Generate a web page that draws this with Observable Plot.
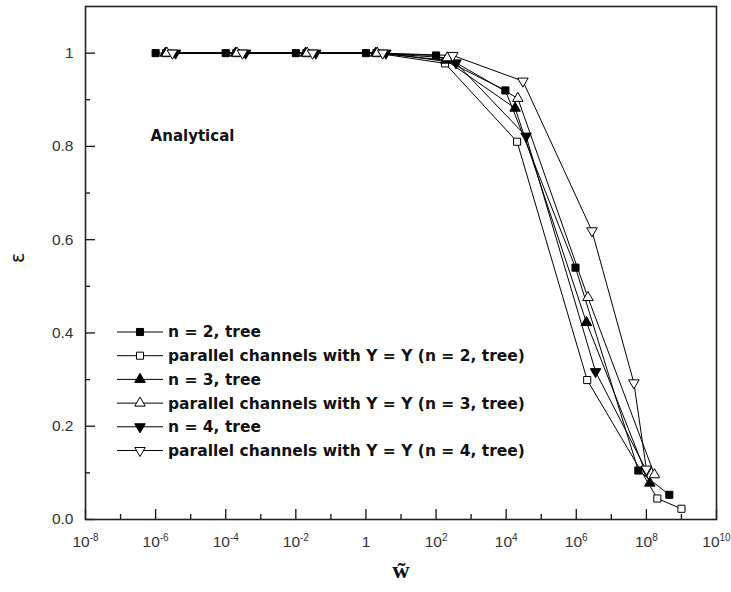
<!DOCTYPE html>
<html><head><meta charset="utf-8">
<script src="https://cdn.jsdelivr.net/npm/d3@7"></script>
<script src="https://cdn.jsdelivr.net/npm/@observablehq/plot@0.6"></script>
<style>
body{margin:0;background:#fff;}
#chart{position:relative;width:731px;height:592px;}
</style>
</head><body><div id="chart"></div>
<script>
// ---- data ----
const seriesNames = [
  "n = 2, tree",
  "parallel channels with Y = Y (n = 2, tree)",
  "n = 3, tree",
  "parallel channels with Y = Y (n = 3, tree)",
  "n = 4, tree",
  "parallel channels with Y = Y (n = 4, tree)"
];
const n2TreeW = [1e-6, 1e-4, 1e-2, 1, 100, 9.5e3, 9.5e5, 5.9e7, 4.5e8];
const n2TreeE = [1.0, 1.0, 1.0, 1.0, 0.995, 0.92, 0.54, 0.105, 0.053];
const par2W   = [2e-6, 2e-4, 2e-2, 2, 180, 2.05e4, 2.05e6, 2.05e8, 1e9];
const par2E   = [1.0, 1.0, 1.0, 1.0, 0.978, 0.81, 0.299, 0.045, 0.023];
const n3TreeW = [1.9e-6, 1.9e-4, 1.9e-2, 1.9, 190, 1.8e4, 1.95e6, 1.25e8];
const n3TreeE = [1.0, 1.0, 1.0, 1.0, 0.985, 0.882, 0.4225, 0.078];
const par3W   = [2.1e-6, 2.1e-4, 2.1e-2, 2.1, 210, 2.15e4, 2.15e6, 1.7e8];
const par3E   = [1.0, 1.0, 1.0, 1.0, 0.99, 0.903, 0.476, 0.096];
const n4TreeW = [3.7e-6, 3.7e-4, 3.7e-2, 3.7, 370, 3.7e4, 3.55e6, 1e8];
const n4TreeE = [1.0, 1.0, 1.0, 1.0, 0.979, 0.822, 0.317, 0.105];
const par4W   = [3e-6, 3e-4, 3e-2, 3, 300, 3e4, 2.8e6, 4.4e7, 1e8];
const par4E   = [1.0, 1.0, 1.0, 1.0, 0.995, 0.94, 0.619, 0.293, 0.108];

const yMajorTicks = [0, 0.2, 0.4, 0.6, 0.8, 1.0];
const yTickLabels = ["0.0", "0.2", "0.4", "0.6", "0.8", "1"];
const yMinorTicks = [0.1, 0.3, 0.5, 0.7, 0.9];
const xMajorTicks = [1e-8, 1e-6, 1e-4, 1e-2, 1, 1e2, 1e4, 1e6, 1e8, 1e10];
const xTickLabels = ["10^-8", "10^-6", "10^-4", "10^-2", "1", "10^2", "10^4", "10^6", "10^8", "10^10"];
const xMinorTicks = [1e-7, 1e-5, 1e-3, 1e-1, 1e1, 1e3, 1e5, 1e7, 1e9];
const annotation = "Analytical";
const annotationPos = {w: 7.2e-7, e: 0.822};
const xLabel = "w\u0303";
const yLabel = "\u03b5";

// ---- build ----
const triangleDown = {
  draw(context, size) {
    const y = -Math.sqrt(size / (Math.sqrt(3) * 3));
    context.moveTo(0, -y * 2);
    context.lineTo(-Math.sqrt(3) * y, y);
    context.lineTo(Math.sqrt(3) * y, y);
    context.closePath();
  }
};
const seriesW = [n2TreeW, par2W, n3TreeW, par3W, n4TreeW, par4W];
const seriesE = [n2TreeE, par2E, n3TreeE, par3E, n4TreeE, par4E];
const styles = [
  {symbol: "square", fill: "black", r: 4},
  {symbol: "square", fill: "white", r: 4},
  {symbol: "triangle", fill: "black", r: 3.9},
  {symbol: "triangle", fill: "white", r: 3.9},
  {symbol: triangleDown, fill: "black", r: 3.9},
  {symbol: triangleDown, fill: "white", r: 3.9}
];
const rows = [];
seriesW.forEach((ws, s) => ws.forEach((w, i) => rows.push({s, w, e: seriesE[s][i]})));

const W = 731, H = 592, mL = 85, mR = 15, mT = 6, mB = 73;
const pw = W - mL - mR, ph = H - mT - mB;
const boldFont = "'DejaVu Sans', Verdana, sans-serif";

const dotMarks = styles.map((st, s) => Plot.dot(rows.filter(d => d.s === s), {
  x: "w", y: "e", symbol: st.symbol, r: st.r, fill: st.fill, stroke: "black", strokeWidth: 1
}));

const plot = Plot.plot({
  width: W, height: H,
  marginLeft: mL, marginRight: mR, marginTop: mT, marginBottom: mB,
  x: {type: "log", domain: [1e-8, 1e10]},
  y: {domain: [0, 1.1]},
  style: {fontFamily: "'Liberation Sans', Arial, sans-serif", fontSize: "15px", color: "#111", background: "#fff"},
  marks: [
    Plot.axisY(yMajorTicks, {tickSize: 0, tickPadding: 12, label: null, fontSize: 15.5, fill: "#333",
      tickFormat: d => yTickLabels[yMajorTicks.indexOf(d)]}),
    Plot.axisX(xMajorTicks, {tickSize: 0, tickPadding: 16, label: null, fontSize: 15.5, fill: "#333",
      tickFormat: d => xTickLabels[xMajorTicks.indexOf(d)]}),
    Plot.tickY(yMajorTicks, {y: d => d, insetRight: pw - 10, stroke: "#111", strokeWidth: 1.3}),
    Plot.tickY(yMinorTicks, {y: d => d, insetRight: pw - 5, stroke: "#111", strokeWidth: 1.3}),
    Plot.tickX(xMajorTicks, {x: d => d, insetTop: ph - 10, stroke: "#111", strokeWidth: 1.3}),
    Plot.tickX(xMinorTicks, {x: d => d, insetTop: ph - 5, stroke: "#111", strokeWidth: 1.3}),
    Plot.line(rows, {x: "w", y: "e", z: "s", stroke: "black", strokeWidth: 1}),
    ...dotMarks,
    Plot.text([annotation], {x: annotationPos.w, y: annotationPos.e, text: d => d, textAnchor: "start",
      fontFamily: boldFont, fontWeight: "bold", fontSize: 15, fill: "#111"}),
    Plot.text([xLabel], {frameAnchor: "bottom", dy: 58, text: d => d, fontFamily: "'Liberation Serif', 'DejaVu Serif', serif",
      fontWeight: "bold", fontSize: 24, fill: "#111"}),
    Plot.text([yLabel], {frameAnchor: "left", dx: -68, text: d => d, rotate: -90, fontSize: 19,
      fontFamily: "'DejaVu Sans', sans-serif", fill: "#111"}),
    Plot.frame({stroke: "#222", strokeWidth: 1.6})
  ]
});

// superscript tick labels
d3.select(plot).selectAll('g[aria-label="x-axis tick label"] text').each(function () {
  const t = this.textContent;
  if (t.includes("^")) {
    const [b, e] = t.split("^");
    const sel = d3.select(this);
    sel.text(null);
    sel.append("tspan").text(b);
    sel.append("tspan").attr("dy", "-0.55em").attr("font-size", "10px").text(e);
  }
});

// legend inside the plot area
const leg = d3.select(plot).append("g").attr("font-family", boldFont)
  .attr("font-size", 15.5).attr("font-weight", "bold").attr("text-anchor", "start");
seriesNames.forEach((name, i) => {
  const cy = 332 + i * 23.7;
  const g = leg.append("g").attr("transform", `translate(0,${cy})`);
  g.append("line").attr("x1", 117).attr("x2", 163).attr("y1", 0).attr("y2", 0).attr("stroke", "black");
  const st = styles[i];
  const type = st.symbol === "square" ? d3.symbolSquare : st.symbol === "triangle" ? d3.symbolTriangle : triangleDown;
  g.append("path").attr("d", d3.symbol(type, Math.PI * st.r * st.r)()).attr("transform", "translate(140,0)")
    .attr("fill", st.fill).attr("stroke", "black");
  g.append("text").attr("x", 168).attr("y", 0).attr("dy", "0.35em").attr("text-anchor", "start")
    .attr("fill", "#111").text(name);
});

document.getElementById("chart").appendChild(plot);
</script>
</body></html>
